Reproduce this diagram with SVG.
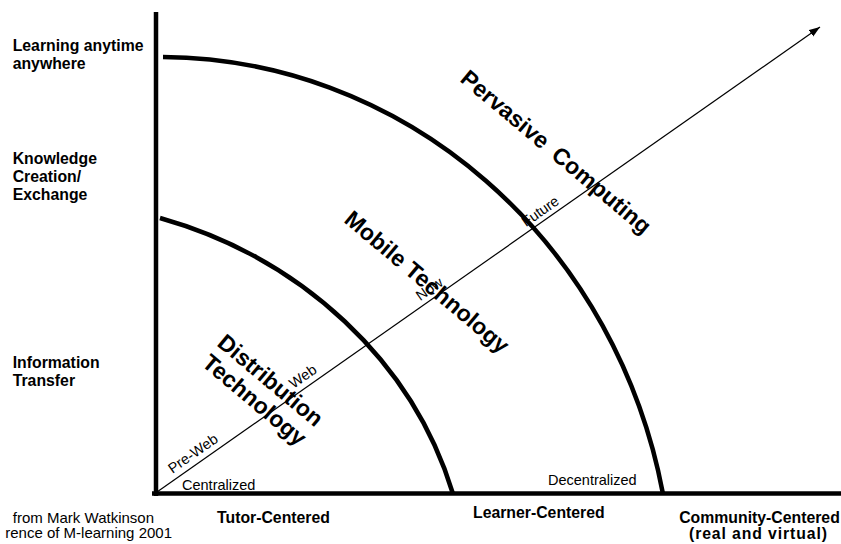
<svg xmlns="http://www.w3.org/2000/svg" width="841" height="544" viewBox="0 0 841 544">
<defs>
<style>
.thick{stroke:#000;stroke-width:4.5;fill:none}
.thin{stroke:#000;stroke-width:1.2;fill:none}
text{font-family:"Liberation Sans",Arial,Helvetica,sans-serif;fill:#000}
.lbl{font-weight:bold;font-size:15.8px}
.big{font-weight:bold;font-size:23px}
.sm{font-size:14.5px}
.foot{font-size:15px}
</style>
<marker id="ah" markerUnits="userSpaceOnUse" markerWidth="12" markerHeight="10" refX="11" refY="4" orient="auto">
<path d="M0,0 L11,4 L0,8 z" fill="#000"/>
</marker>
</defs>
<rect width="841" height="544" fill="#fff"/>

<g id="axis-labels">
<text class="lbl" x="12.7" y="51">Learning anytime</text>
<text class="lbl" x="12.7" y="69">anywhere</text>
<text class="lbl" x="12.7" y="164">Knowledge</text>
<text class="lbl" x="12.7" y="182">Creation/</text>
<text class="lbl" x="12.7" y="200">Exchange</text>
<text class="lbl" x="12.7" y="368">Information</text>
<text class="lbl" x="12.7" y="386">Transfer</text>
<text class="lbl" x="217" y="523">Tutor-Centered</text>
<text class="lbl" x="473" y="518">Learner-Centered</text>
<text class="lbl" x="759.5" y="522.5" text-anchor="middle">Community-Centered</text>
<text class="lbl" x="758" y="538.5" text-anchor="middle" textLength="138" lengthAdjust="spacing">(real and virtual)</text>
</g>

<g id="footnote">
<text class="foot" x="154" y="522.5" text-anchor="end">from Mark Watkinson</text>
<text class="foot" x="172" y="538" text-anchor="end">rence of M-learning 2001</text>
</g>

<g id="scale-labels">
<text class="sm" x="182" y="489.5">Centralized</text>
<text class="sm" x="548" y="485">Decentralized</text>
<text class="sm" transform="translate(172.4,473.9) rotate(-35)">Pre-Web</text>
<text class="sm" transform="translate(293.6,388.9) rotate(-35)">Web</text>
<text class="sm" transform="translate(420.3,301.3) rotate(-35)">Now</text>
<text class="sm" transform="translate(525.9,227.3) rotate(-35)">Future</text>
</g>

<g id="connectors">
<line class="thin" x1="157" y1="492" x2="820" y2="27" marker-end="url(#ah)"/>
</g>

<g id="axes">
<line class="thick" x1="156" y1="12" x2="156" y2="496"/>
<line class="thick" x1="152" y1="493.5" x2="841" y2="493.5"/>
</g>

<g id="distribution-technology">
<path class="thick" d="M160,218 A439,400 0 0 1 452.7,493"/>
<text class="big" text-anchor="middle" transform="translate(265.5,386.4) rotate(40)">Distribution</text>
<text class="big" text-anchor="middle" transform="translate(249.5,406) rotate(40)">Technology</text>
</g>

<g id="mobile-technology">
<path class="thick" d="M163,57 A513,543 0 0 1 662.8,493"/>
<text class="big" text-anchor="middle" transform="translate(422,288) rotate(40)">Mobile Technology</text>
</g>

<g id="pervasive-computing">
<text class="big" text-anchor="middle" word-spacing="5" transform="translate(551,158) rotate(40)">Pervasive Computing</text>
</g>
</svg>
